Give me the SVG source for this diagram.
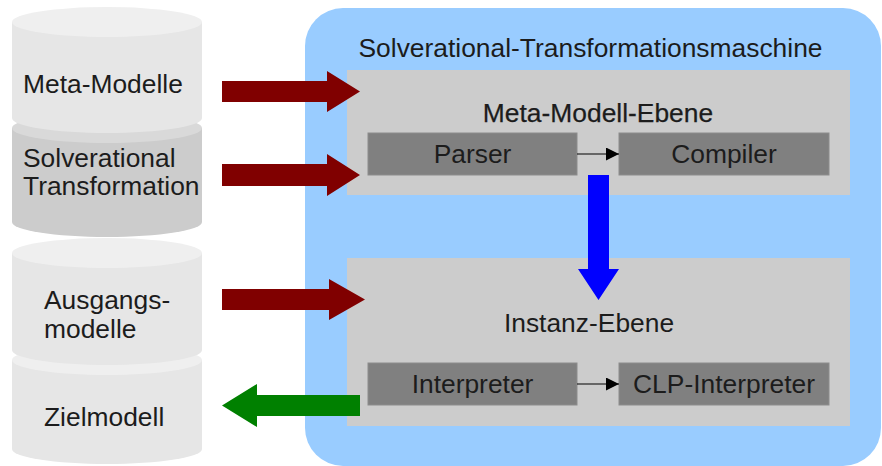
<svg xmlns="http://www.w3.org/2000/svg" width="882" height="466" viewBox="0 0 882 466">
  <style>
    text { font-family: "Liberation Sans", Arial, sans-serif; font-size: 26.4px; fill: #1c1c1c; }
    .mid { text-anchor: middle; }
    .cyl-body { fill: #e6e6e6; }
    .cyl-top { fill: #efefef; }
    .cyl-body-dark { fill: #cccccc; }
    .cyl-top-dark { fill: #d9d9d9; }
    .panel { fill: #cccccc; }
    .box { fill: #808080; stroke: #8c8c8c; stroke-width: 1; }
    .link { stroke: #000; stroke-width: 1.2; fill: none; marker-end: url(#tip); }
  </style>
  <defs>
    <marker id="tip" viewBox="0 0 10 10" refX="10" refY="5" markerWidth="13" markerHeight="13" markerUnits="userSpaceOnUse" orient="auto">
      <path d="M0,0 L10,5 L0,10 z" fill="#000"/>
    </marker>
  </defs>

  <rect width="882" height="466" fill="#ffffff"/>

  <!-- data stores on the left -->
  <g id="solverational-transformation">
    <path class="cyl-body-dark" d="M12,128 L12,222 A95,15 0 0 0 202,222 L202,128 z"/>
    <ellipse class="cyl-top-dark" cx="107" cy="128" rx="95" ry="15"/>
    <text x="23" y="167">Solverational</text>
    <text x="23" y="195">Transformation</text>
  </g>
  <g id="meta-modelle">
    <path class="cyl-body" d="M12,22 L12,118 A95,15 0 0 0 202,118 L202,22 z"/>
    <ellipse class="cyl-top" cx="107" cy="22" rx="95" ry="15"/>
    <text x="23" y="93">Meta-Modelle</text>
  </g>
  <g id="zielmodell">
    <path class="cyl-body" d="M12,360 L12,449 A95,15 0 0 0 202,449 L202,360 z"/>
    <ellipse class="cyl-top" cx="107" cy="360" rx="95" ry="15"/>
    <text x="44" y="426">Zielmodell</text>
  </g>
  <g id="ausgangsmodelle">
    <path class="cyl-body" d="M12,253 L12,350 A95,15 0 0 0 202,350 L202,253 z"/>
    <ellipse class="cyl-top" cx="107" cy="253" rx="95" ry="15"/>
    <text x="44" y="309">Ausgangs-</text>
    <text x="44" y="338">modelle</text>
  </g>

  <!-- machine container -->
  <g id="maschine">
    <rect x="305" y="8" width="576" height="458" rx="38" ry="38" fill="#99ccff"/>
    <text class="mid" x="590.5" y="57">Solverational-Transformationsmaschine</text>
  </g>

  <g id="meta-modell-ebene">
    <rect class="panel" x="347" y="70" width="503" height="125"/>
    <text class="mid" x="598" y="122" stroke="#1c1c1c" stroke-width="0.25">Meta-Modell-Ebene</text>
  </g>
  <g id="parser">
    <rect class="box" x="368" y="133" width="209" height="42"/>
    <text class="mid" x="472.5" y="163">Parser</text>
  </g>
  <g id="compiler">
    <rect class="box" x="619" y="133" width="210" height="42"/>
    <text class="mid" x="724" y="163">Compiler</text>
  </g>

  <g id="instanz-ebene">
    <rect class="panel" x="347" y="258" width="503" height="168"/>
    <text class="mid" x="589" y="332">Instanz-Ebene</text>
  </g>
  <g id="interpreter">
    <rect class="box" x="368" y="363" width="209" height="42"/>
    <text class="mid" x="472.5" y="393">Interpreter</text>
  </g>
  <g id="clp-interpreter">
    <rect class="box" x="619" y="363" width="210" height="42"/>
    <text class="mid" x="724" y="393">CLP-Interpreter</text>
  </g>

  <!-- connectors -->
  <g id="connectors">
    <path class="link" d="M577,154 L619,154"/>
    <path class="link" d="M577,384 L619,384"/>
    <!-- inputs -->
    <path fill="#800000" d="M222,81 L327,81 L327,71 L360,91.5 L327,112 L327,102 L222,102 z"/>
    <path fill="#800000" d="M222,164 L327,164 L327,154 L360,175 L327,196 L327,186 L222,186 z"/>
    <path fill="#800000" d="M222,289 L329,289 L329,279 L365,299.5 L329,320 L329,310 L222,310 z"/>
    <!-- output -->
    <path fill="#008000" d="M360,395 L257,395 L257,384 L222,405.5 L257,427 L257,416 L360,416 z"/>
    <!-- compile step -->
    <path fill="#0000ff" d="M588,175 L609,175 L609,269 L619,269 L598.5,300 L578,269 L588,269 z"/>
  </g>
</svg>
